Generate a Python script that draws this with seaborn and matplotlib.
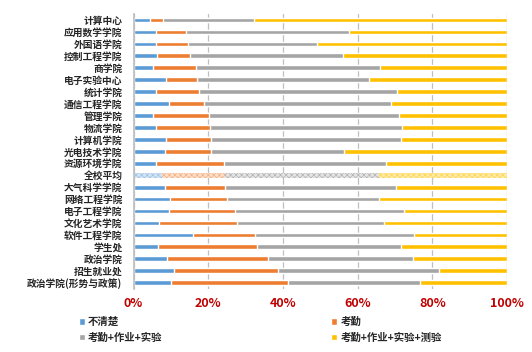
import numpy as np
import pandas as pd
import matplotlib
matplotlib.use("Agg")
import matplotlib.pyplot as plt
import seaborn as sns
from matplotlib.patches import Patch
from matplotlib.ticker import FixedLocator, PercentFormatter

colleges = [
    "计算中心", "应用数学学院", "外国语学院", "控制工程学院", "商学院", "电子实验中心",
    "统计学院", "通信工程学院", "管理学院", "物流学院", "计算机学院", "光电技术学院",
    "资源环境学院", "全校平均", "大气科学学院", "网络工程学院", "电子工程学院",
    "文化艺术学院", "软件工程学院", "学生处", "政治学院", "招生就业处",
    "政治学院(形势与政策)",
]
unclear = [4.4, 5.9, 5.9, 6.2, 5.1, 8.6, 6.1, 9.5, 5.3, 5.9, 8.6, 8.4,
           6.0, 7.7, 8.3, 9.8, 9.6, 6.9, 15.9, 6.6, 8.9, 10.9, 10.0]
attendance = [3.6, 8.2, 8.6, 8.9, 11.5, 8.5, 11.3, 9.4, 15.0, 14.6, 12.1, 12.4,
              18.3, 16.8, 16.2, 15.3, 17.6, 20.9, 16.7, 26.4, 27.2, 27.7, 31.3]
att_hw_lab = [24.3, 43.7, 34.6, 41.0, 49.5, 46.0, 53.2, 50.1, 50.9, 51.4, 51.0, 35.6,
              43.3, 41.1, 45.8, 40.7, 45.1, 39.4, 42.4, 38.7, 38.6, 43.1, 35.5]
att_hw_lab_quiz = [67.7, 42.2, 50.9, 43.9, 33.9, 36.9, 29.4, 31.0, 28.8, 28.1, 28.3, 43.6,
                   32.4, 34.4, 29.7, 34.2, 27.7, 32.8, 25.0, 28.3, 25.3, 18.3, 23.2]
series_names = ["不清楚", "考勤", "考勤+作业+实验", "考勤+作业+实验+测验"]
colors = ["#5B9BD5", "#ED7D31", "#A5A5A5", "#FFC000"]
light = ["#D4E4F4", "#FBDFCB", "#E4E4E4", "#FFEBA8"]
mid = ["#9DC3E6", "#F4B183", "#B4B4B4", "#FFD54F"]
avg_label = "全校平均"

df = pd.DataFrame({"college": colleges})
parts = [unclear, attendance, att_hw_lab, att_hw_lab_quiz]
cum = np.cumsum(np.array(parts, dtype=float), axis=0)
cum = cum / cum[-1] * 100

sns.set_theme(style="white")
plt.rcParams["font.family"] = ["Noto Sans CJK SC", "DejaVu Sans"]
plt.rcParams["hatch.linewidth"] = 0.5

fig = plt.figure(figsize=(5.32, 3.52), dpi=100)
ax = fig.add_axes([0.251, 0.18, 0.702, 0.78])

# draw cumulative bars back to front
for i in range(3, -1, -1):
    sns.barplot(x=cum[i], y=df["college"], orient="h", color=colors[i],
                width=0.4, saturation=1, ax=ax)

# hatch the school average row
avg_idx = colleges.index(avg_label)
n = len(colleges)
for k in range(4):
    i = 3 - k
    p = ax.patches[k * n + avg_idx]
    p.set_facecolor(light[i])
    p.set_edgecolor(mid[i])
    p.set_hatch("xxxxxx")
    p.set_linewidth(0)

ax.set_xlim(0, 100)
ax.set_ylim(n - 0.5, -0.5)
ax.set_xlabel("")
ax.set_ylabel("")
ax.xaxis.set_major_locator(FixedLocator([0, 20, 40, 60, 80, 100]))
ax.xaxis.set_major_formatter(PercentFormatter(decimals=0))
ax.grid(axis="x", color="#BFBFBF", linewidth=0.9)
ax.set_axisbelow(True)
for s in ["top", "right", "bottom"]:
    ax.spines[s].set_visible(False)
ax.spines["left"].set_color("#BFBFBF")
ax.tick_params(axis="x", length=0, pad=6, labelsize=9, labelcolor="#C00000")
ax.tick_params(axis="y", length=0, pad=8, labelsize=7)
ax.yaxis.set_minor_locator(FixedLocator(np.arange(-0.5, n, 1)))
ax.tick_params(axis="y", which="minor", length=3, color="#BFBFBF", width=0.8)
for t in ax.get_xticklabels():
    t.set_fontweight("bold")
for t in ax.get_yticklabels():
    t.set_fontweight("bold")

order = [0, 2, 1, 3]
handles = [Patch(facecolor=colors[i], label=series_names[i]) for i in order]
fig.legend(handles=handles, ncol=2, loc="lower left", bbox_to_anchor=(0.13, 0.0),
           frameon=False, prop={"weight": "bold", "size": 7.5},
           handlelength=0.6, handleheight=0.6, handletextpad=0.3,
           columnspacing=16.2, labelspacing=0.5)

fig.savefig("out.png", dpi=100)
